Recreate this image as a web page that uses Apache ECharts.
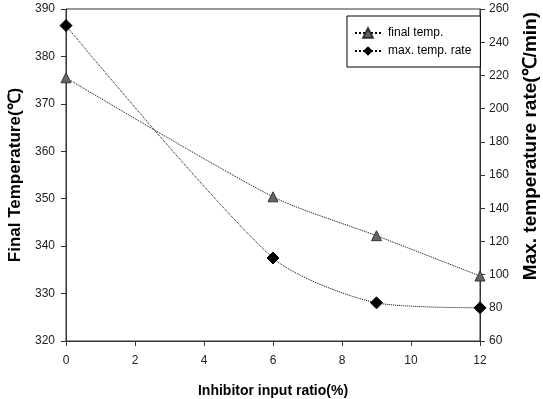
<!DOCTYPE html>
<html><head><meta charset="utf-8">
<script src="https://cdn.jsdelivr.net/npm/echarts@6/dist/echarts.min.js"></script>
<style>html,body{margin:0;padding:0;background:#fff}#c{width:543px;height:399px}</style>
</head><body><div id="c"></div>
<script>
const xValues = [0, 6, 9, 12];
const finalTemp = [375.5, 350.4, 342.2, 333.7];
const maxRate = [250, 110, 83, 80];
const seriesNames = ['final temp.', 'max. temp. rate'];
const rightTitle = 'Max. temperature rate(\u2103/min)';

const chart = echarts.init(document.getElementById('c'));
const font = 'Liberation Sans, Arial, sans-serif';
const axisCol = '#333';
chart.setOption({
  animation: false,
  grid: { left: 66, right: 63, top: 9, bottom: 58, show: true, borderColor: axisCol, borderWidth: 1,
    containLabel: false, outerBoundsMode: 'none' },
  legend: {
    left: 347, top: 16, orient: 'vertical', itemWidth: 26, itemHeight: 12, itemGap: 6,
    padding: [11, 9, 10, 7], borderColor: '#000', borderWidth: 1, backgroundColor: '#fff',
    textStyle: { fontFamily: font, fontSize: 12, color: '#000', padding: [0, 0, 0, 2] },
    data: seriesNames
  },
  graphic: [{
    type: 'text', left: 521, top: 12, rotation: Math.PI / 2,
    style: { text: rightTitle, font: 'bold 19px ' + font, fill: '#000' }
  }],
  xAxis: {
    type: 'value', min: 0, max: 12, interval: 2,
    name: 'Inhibitor input ratio(%)', nameLocation: 'middle', nameGap: 43,
    nameTextStyle: { fontFamily: font, fontSize: 14, fontWeight: 'bold', color: '#000' },
    axisLine: { lineStyle: { color: axisCol } },
    axisTick: { inside: false, length: 5, lineStyle: { color: axisCol } },
    axisLabel: { fontFamily: font, fontSize: 12, color: '#222', margin: 14 },
    splitLine: { show: false }
  },
  yAxis: [{
    type: 'value', min: 320, max: 390, interval: 10, position: 'left',
    name: 'Final Temperature(\u2103)', nameLocation: 'middle', nameGap: 36, nameRotate: 90,
    nameTextStyle: { fontFamily: font, fontSize: 17, fontWeight: 'bold', color: '#000' },
    axisLine: { show: true, lineStyle: { color: axisCol } },
    axisTick: { show: true, inside: false, length: 5, lineStyle: { color: axisCol } },
    axisLabel: { fontFamily: font, fontSize: 12, color: '#222', margin: 11 },
    splitLine: { show: false }
  }, {
    type: 'value', min: 60, max: 260, interval: 20, position: 'right',
    axisLine: { show: true, lineStyle: { color: axisCol } },
    axisTick: { show: true, inside: false, length: 5, lineStyle: { color: axisCol } },
    axisLabel: { fontFamily: font, fontSize: 12, color: '#222', margin: 9 },
    splitLine: { show: false }
  }],
  series: [{
    name: seriesNames[0], type: 'line', yAxisIndex: 0, smooth: 0.25,
    data: xValues.map((x, i) => [x, finalTemp[i]]),
    symbol: 'triangle', symbolSize: 10,
    itemStyle: { color: '#666', borderColor: '#333', borderWidth: 1 },
    lineStyle: { color: '#000', width: 1, type: 'dotted' }
  }, {
    name: seriesNames[1], type: 'line', yAxisIndex: 1, smooth: 0.25,
    data: xValues.map((x, i) => [x, maxRate[i]]),
    symbol: 'diamond', symbolSize: 12,
    itemStyle: { color: '#000', borderColor: '#000' },
    lineStyle: { color: '#000', width: 1, type: 'dotted' }
  }]
});
</script></body></html>
